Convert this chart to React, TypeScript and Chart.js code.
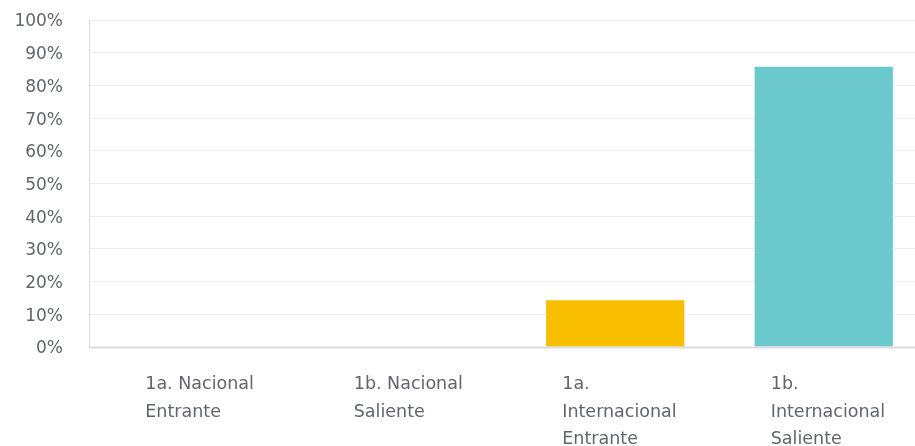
import React, { useEffect, useRef } from "react";
import { Chart, registerables } from "chart.js";

Chart.register(...registerables);

const categories: string[][] = [
  ["1a. Nacional", "Entrante"],
  ["1b. Nacional", "Saliente"],
  ["1a.", "Internacional", "Entrante"],
  ["1b.", "Internacional", "Saliente"],
];
const values: number[] = [0, 0, 14.29, 85.71];
const barColors: string[] = ["#6BC8CD", "#6BC8CD", "#F9BE00", "#6BC8CD"];
const yTickStep = 10;
const yMax = 100;

const TEXT = "#60656e";
const FONT = "'DejaVu Sans', sans-serif";

const axisLines = {
  id: "axisLines",
  afterDatasetsDraw(chart: any) {
    const { ctx, chartArea } = chart;
    const x0 = chartArea.left - 5 + 0.5;
    ctx.save();
    ctx.strokeStyle = "#dcdcdc";
    ctx.lineWidth = 1;
    ctx.beginPath();
    ctx.moveTo(x0, chartArea.top);
    ctx.lineTo(x0, chartArea.bottom + 1);
    ctx.stroke();
    ctx.lineWidth = 2;
    ctx.beginPath();
    ctx.moveTo(x0 - 0.5, chartArea.bottom + 0.5);
    ctx.lineTo(chartArea.right, chartArea.bottom + 0.5);
    ctx.stroke();
    ctx.restore();
  },
};

export default function App() {
  const ref = useRef<HTMLCanvasElement | null>(null);
  useEffect(() => {
    if (!ref.current) return;
    const chart = new Chart(ref.current, {
      type: "bar",
      data: {
        labels: categories,
        datasets: [
          {
            data: values,
            backgroundColor: barColors,
            borderWidth: 0,
            categoryPercentage: 1,
            barPercentage: 0.663,
          },
        ],
      },
      options: {
        animation: false,
        responsive: false,
        maintainAspectRatio: false,
        layout: { padding: { top: 20, right: 2, bottom: 0, left: 0 } },
        plugins: { legend: { display: false }, tooltip: { enabled: false } },
        scales: {
          x: {
            grid: { display: false, drawTicks: false },
            border: { display: false },
            afterFit: (s: any) => {
              s.height = 470 - 347;
              s.paddingLeft = 0;
              s.paddingRight = 0;
            },
            ticks: {
              autoSkip: false,
              maxRotation: 0,
              minRotation: 0,
              align: "start",
              labelOffset: -53,
              padding: 24,
              color: TEXT,
              font: { family: FONT, size: 17.5, lineHeight: 1.57 },
            },
          },
          y: {
            min: 0,
            max: yMax,
            afterFit: (s: any) => {
              s.width = 94;
              s.paddingTop = 0;
              s.paddingBottom = 0;
            },
            grid: {
              color: "#ededed",
              tickColor: "#ededed",
              drawTicks: true,
              tickLength: 5,
            },
            border: { display: false },
            ticks: {
              stepSize: yTickStep,
              padding: 26,
              labelOffset: 2,
              color: TEXT,
              font: { family: FONT, size: 17 },
              callback: (v: any) => v + "%",
            },
          },
        },
      },
      plugins: [axisLines],
    });
    return () => chart.destroy();
  }, []);
  return (
    <div
      style={{
        position: "fixed",
        left: 0,
        top: 0,
        width: 915,
        height: 446,
        overflow: "hidden",
        background: "#fff",
      }}
    >
      <canvas ref={ref} width={930} height={470} style={{ display: "block" }} />
    </div>
  );
}
